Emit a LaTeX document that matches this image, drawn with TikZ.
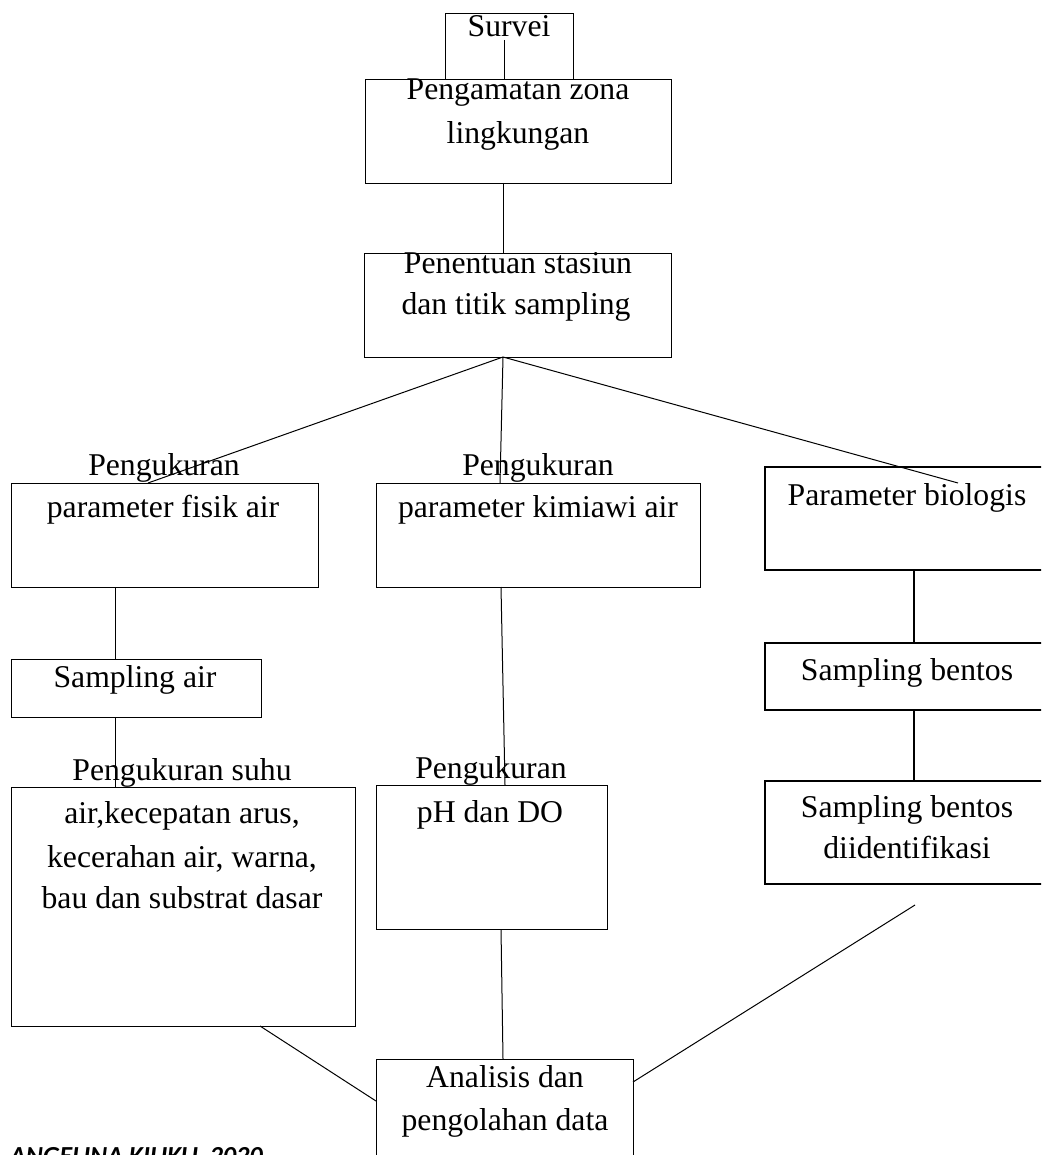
\documentclass[tikz,border=0pt]{standalone}
\usepackage{fontspec}
\setmainfont{Liberation Serif}
\newfontfamily\capfont{Carlito}
\begin{document}
\begin{tikzpicture}[x=1pt,y=-1pt,
  box/.style={draw, line width=1pt, rectangle, inner sep=0pt, anchor=north west},
  boxb/.style={box, line width=1.6pt},
  txt/.style={inner sep=0pt, anchor=base, font=\fontsize{31.7}{38}\selectfont},
  link/.style={draw, line width=1pt},
  linkb/.style={draw, line width=1.6pt}]
\useasboundingbox (0,0) rectangle (1041,1155);
\clip (0,0) rectangle (1041,1155);
% boxes
\node[box, minimum width=128pt, minimum height=66pt] (survei) at (445,13) {};
\node[box, minimum width=306pt, minimum height=104pt] (amat) at (365,79) {};
\node[box, minimum width=307pt, minimum height=104pt] (tentu) at (364,253) {};
\node[box, minimum width=307pt, minimum height=104pt] (fisik) at (11,483) {};
\node[box, minimum width=324pt, minimum height=104pt] (kimia) at (376,483) {};
\node[boxb, minimum width=300pt, minimum height=103pt] (bio) at (764,466) {};
\node[box, minimum width=250pt, minimum height=58pt] (sair) at (11,659) {};
\node[box, minimum width=344pt, minimum height=239pt] (suhu) at (11,787) {};
\node[box, minimum width=231pt, minimum height=144pt] (ph) at (376,785) {};
\node[boxb, minimum width=300pt, minimum height=67pt] (bent) at (764,642) {};
\node[boxb, minimum width=300pt, minimum height=103pt] (bentid) at (764,780) {};
\node[box, minimum width=257pt, minimum height=150pt] (anal) at (376,1059) {};
% connector end points
\coordinate (p1) at (504,40);
\coordinate (p2) at (503,183);
\coordinate (hub) at (503,357);
\coordinate (f1) at (148,483);
\coordinate (k1) at (500,483);
\coordinate (b1) at (958,483);
\coordinate (f2) at (115,587);
\coordinate (s2) at (115,717);
\coordinate (k2) at (501,587);
\coordinate (k3) at (505,785);
\coordinate (h2) at (501,929);
\coordinate (h3) at (503,1059);
\coordinate (u2) at (260,1026);
\coordinate (an1) at (376,1101);
\coordinate (an2) at (633,1082);
\coordinate (bi2) at (915,905);
\coordinate (bb1) at (914,569);
\coordinate (bb2) at (914,709);
% connectors
\draw[link] (p1) -- (p1 |- amat.north);
\draw[link] (p2) -- (p2 |- tentu.north);
\draw[link] (hub) -- (f1);
\draw[link] (hub) -- (k1);
\draw[link] (hub) -- (b1);
\draw[link] (f2) -- (f2 |- sair.north);
\draw[link] (s2) -- (s2 |- suhu.north);
\draw[link] (k2) -- (k3);
\draw[link] (h2) -- (h3);
\draw[link] (u2) -- (an1);
\draw[link] (an2) -- (bi2);
\draw[linkb] (bb1) -- (bb1 |- bent.north);
\draw[linkb] (bb2) -- (bb2 |- bentid.north);
% texts
\node[txt] (t1) at (509,37) {Survei};
\node[txt] (t2) at (518,100) {Pengamatan zona};
\node[txt] (t3) at (518,144) {lingkungan};
\node[txt] (t4) at (518,273) {Penentuan stasiun};
\node[txt] (t5) at (516,314) {dan titik sampling};
\node[txt] (t6) at (164,475) {Pengukuran};
\node[txt] (t7) at (163,517) {parameter fisik air};
\node[txt] (t8) at (538,475) {Pengukuran};
\node[txt] (t9) at (538,517) {parameter kimiawi air};
\node[txt] (t10) at (907,505) {Parameter biologis};
\node[txt] (t11) at (135,687) {Sampling air};
\node[txt] (t12) at (907,680) {Sampling bentos};
\node[txt] (t13) at (182,780) {Pengukuran suhu};
\node[txt] (t14) at (182,823) {air,kecepatan arus,};
\node[txt] (t15) at (182,867) {kecerahan air, warna,};
\node[txt] (t16) at (182,908) {bau dan substrat dasar};
\node[txt] (t17) at (491,778) {Pengukuran};
\node[txt] (t18) at (490,822) {pH dan DO};
\node[txt] (t19) at (907,817) {Sampling bentos};
\node[txt] (t20) at (907,858) {diidentifikasi};
\node[txt] (t21) at (505,1087) {Analisis dan};
\node[txt] (t22) at (505,1130) {pengolahan data};
\node[inner sep=0pt, anchor=base west, font=\capfont\bfseries\itshape\fontsize{26}{30}\selectfont] (src) at (10,1164) {ANGELINA KIUKU, 2020};
\end{tikzpicture}
\end{document}
